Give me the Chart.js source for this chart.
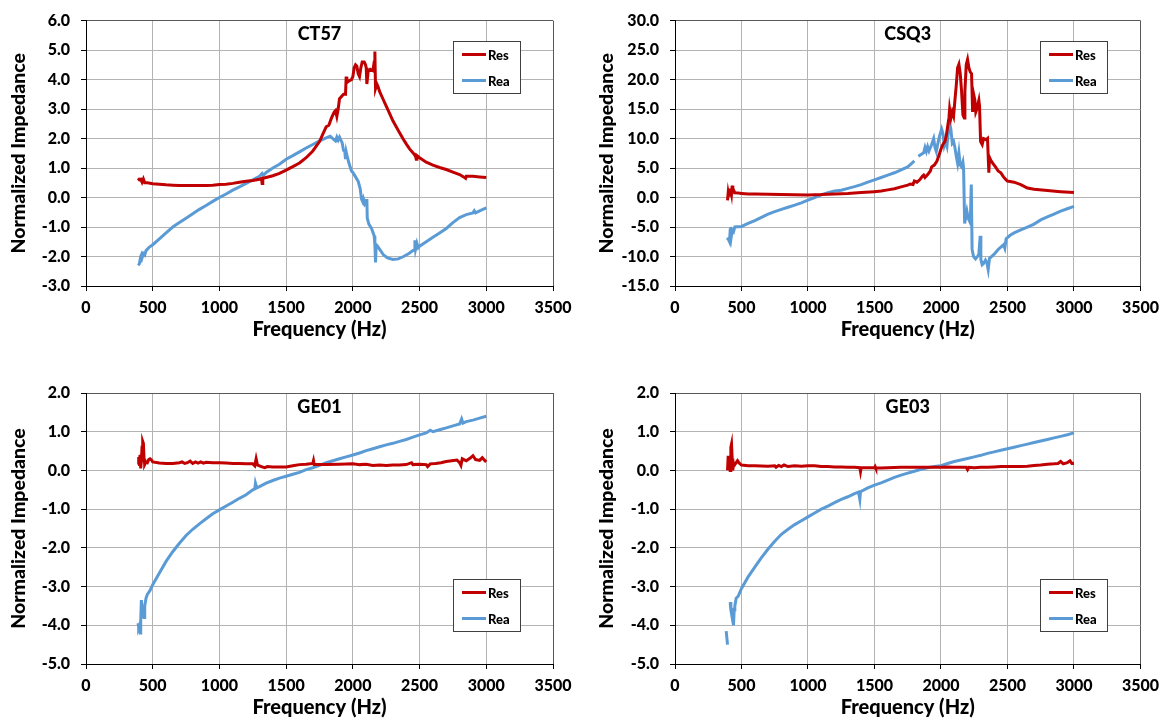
<!DOCTYPE html>
<html>
<head>
<meta charset="utf-8">
<script src="https://cdn.jsdelivr.net/npm/chart.js@4.4.1/dist/chart.umd.min.js"></script>
<style>
  html, body { margin: 0; padding: 0; background: #fff; }
  body { width: 1166px; height: 721px; position: relative; overflow: hidden; }
  canvas { position: absolute; }
</style>
</head>
<body>
<canvas id="ct57" width="583" height="360" style="left:0;top:0"></canvas>
<canvas id="csq3" width="583" height="360" style="left:583px;top:0"></canvas>
<canvas id="ge01" width="583" height="361" style="left:0;top:360px"></canvas>
<canvas id="ge03" width="583" height="361" style="left:583px;top:360px"></canvas>
<script>
// ---- data (Hz / normalized impedance) ----
const ct57ResHz = [390,400,410,420,430,440,460,500,550,600,650,700,800,900,950,1000,1050,1100,1150,1200,1250,1300,1315,1320,1325,1350,1400,1450,1500,1550,1600,1650,1700,1750,1780,1800,1820,1840,1860,1870,1880,1890,1900,1910,1930,1945,1950,1955,1970,1990,2000,2010,2020,2030,2040,2050,2060,2070,2085,2095,2100,2105,2115,2130,2150,2160,2165,2170,2180,2190,2200,2225,2250,2275,2300,2325,2350,2375,2400,2425,2450,2470,2475,2480,2500,2550,2600,2650,2700,2750,2800,2830,2845,2850,2900,2950,3000];
const ct57Res = [0.65,0.6,0.62,0.52,0.63,0.5,0.5,0.47,0.45,0.43,0.42,0.41,0.41,0.41,0.42,0.44,0.45,0.48,0.52,0.55,0.58,0.62,0.65,0.48,0.65,0.68,0.74,0.82,0.93,1.05,1.17,1.35,1.58,1.9,2.2,2.4,2.45,2.7,2.9,2.95,2.75,3.0,3.35,3.4,3.5,3.5,4.1,3.9,3.95,4.0,4.1,4.4,4.5,4.45,4.2,4.1,4.4,4.6,4.6,4.5,4.4,3.85,4.3,4.35,4.3,4.6,4.95,3.7,3.85,3.75,3.6,3.35,3.1,2.85,2.6,2.4,2.2,2.0,1.82,1.65,1.52,1.4,1.3,1.42,1.35,1.2,1.1,1.02,0.95,0.86,0.78,0.7,0.65,0.72,0.72,0.7,0.68];
const ct57ReaHz = [390,400,410,415,420,430,440,450,475,500,550,600,650,700,750,800,850,900,950,1000,1050,1100,1150,1200,1250,1300,1320,1330,1350,1400,1450,1500,1550,1600,1650,1700,1750,1800,1830,1850,1870,1880,1890,1900,1910,1920,1930,1940,1945,1950,1960,1975,1990,2000,2020,2040,2055,2065,2075,2080,2090,2100,2105,2108,2120,2140,2160,2165,2170,2175,2185,2200,2230,2260,2300,2340,2380,2420,2450,2460,2465,2470,2480,2490,2500,2550,2600,2650,2700,2750,2800,2850,2900,2910,2920,2950,3000];
const ct57Rea = [-2.3,-2.25,-2.0,-1.95,-2.05,-1.9,-1.95,-1.8,-1.68,-1.6,-1.4,-1.2,-1.0,-0.85,-0.7,-0.55,-0.4,-0.27,-0.13,0.0,0.12,0.25,0.36,0.48,0.6,0.72,0.82,0.75,0.85,1.0,1.13,1.3,1.42,1.55,1.68,1.8,1.92,2.02,2.08,2.0,1.92,2.05,1.95,2.05,1.95,1.85,1.6,1.55,1.3,1.55,1.35,1.1,0.9,0.85,0.7,0.55,0.3,-0.05,-0.15,-0.05,-0.2,-0.1,-0.05,-0.7,-0.9,-1.05,-1.3,-1.6,-2.2,-1.6,-1.65,-1.75,-1.95,-2.05,-2.1,-2.08,-2.0,-1.9,-1.8,-1.78,-1.45,-1.75,-1.55,-1.7,-1.65,-1.5,-1.35,-1.2,-1.05,-0.85,-0.68,-0.58,-0.52,-0.45,-0.52,-0.45,-0.35];

const csq3ResHz = [395,400,405,410,415,420,425,430,435,440,450,475,500,550,600,700,800,900,1000,1100,1200,1300,1400,1500,1550,1600,1650,1700,1750,1770,1790,1800,1820,1840,1860,1870,1880,1900,1920,1930,1950,1970,1990,2000,2010,2020,2030,2040,2050,2060,2065,2075,2085,2095,2105,2115,2125,2135,2145,2155,2165,2175,2180,2190,2200,2210,2220,2230,2238,2245,2255,2262,2270,2285,2290,2298,2310,2320,2340,2350,2360,2365,2375,2390,2410,2430,2450,2470,2490,2500,2550,2600,2650,2700,2800,2900,3000];
const csq3Res = [-0.5,0.8,0.2,1.5,0.4,1.2,0.6,2.0,0.7,1.3,0.8,0.75,0.7,0.6,0.58,0.55,0.5,0.48,0.45,0.5,0.6,0.7,0.85,1.0,1.1,1.3,1.5,1.8,2.1,2.3,2.2,2.8,2.6,3.0,3.6,3.8,3.4,3.9,4.5,5.2,5.5,6.2,7.5,8.2,8.8,9.2,9.5,10.5,12.0,13.5,15.0,13.5,14.5,13.8,16.5,19.0,22.0,22.6,21.0,18.0,14.0,13.5,18.0,22.5,23.4,22.0,21.3,21.0,14.5,17.6,16.5,14.5,15.0,16.5,15.5,9.5,9.0,10.0,9.8,10.0,4.2,6.8,6.3,5.8,5.2,4.5,4.2,3.5,3.0,2.8,2.6,2.2,1.6,1.4,1.2,1.0,0.85];
const csq3ReaHz = [390,400,410,415,420,425,430,440,450,475,500,550,600,650,700,750,800,850,900,950,1000,1050,1100,1150,1200,1250,1300,1350,1400,1450,1500,1550,1600,1650,1700,1750,1780,1800,1815,1830,1850,1870,1880,1890,1900,1910,1930,1945,1955,1965,1975,1990,2005,2015,2025,2035,2045,2055,2065,2075,2085,2095,2105,2115,2125,2135,2145,2155,2165,2170,2178,2185,2195,2205,2215,2222,2228,2234,2245,2260,2275,2285,2295,2300,2310,2320,2335,2345,2355,2365,2380,2400,2430,2450,2470,2480,2490,2500,2520,2550,2600,2650,2700,2750,2800,2850,2900,2950,3000];
const csq3Rea = [-7.2,-7.0,-7.5,-5.5,-5.0,-6.3,-5.5,-5.8,-5.0,-4.95,-4.9,-4.4,-3.9,-3.35,-2.8,-2.4,-2.0,-1.65,-1.3,-0.9,-0.45,0.0,0.45,0.8,1.1,1.25,1.55,1.85,2.2,2.6,3.0,3.4,3.8,4.2,4.7,5.2,5.8,6.2,null,7.0,7.3,7.6,8.5,7.8,8.6,7.9,9.0,10.0,8.5,7.8,9.0,10.5,11.6,10.8,8.8,9.5,8.7,11.0,12.7,11.5,9.2,9.5,8.5,7.0,5.8,7.6,5.5,5.2,6.0,5.0,-4.4,-3.5,-2.3,-3.5,-4.0,-3.0,2.2,-8.8,-10.0,-10.4,-10.0,-9.6,-6.5,-10.5,-11.4,-11.2,-10.6,-11.0,-12.2,-10.3,-10.0,-9.6,-8.8,-8.4,-8.0,-8.6,-7.0,-6.8,-6.4,-6.0,-5.5,-5.0,-4.5,-3.8,-3.3,-2.8,-2.3,-1.9,-1.5];

const ge01ResHz = [390,395,400,405,410,415,420,425,430,435,440,450,460,470,480,490,500,550,600,650,700,720,740,760,780,800,820,840,860,880,900,950,1000,1050,1100,1150,1200,1250,1265,1275,1285,1300,1320,1340,1360,1400,1450,1500,1550,1600,1650,1700,1705,1710,1750,1800,1900,2000,2050,2100,2150,2200,2250,2300,2350,2400,2440,2450,2500,2550,2560,2580,2620,2660,2700,2740,2780,2800,2810,2820,2850,2880,2900,2920,2950,2970,2990,3000];
const ge01Res = [0.15,0.35,0.2,0.4,0.05,0.25,0.6,0.75,0.7,0.3,0.15,0.22,0.2,0.28,0.3,0.27,0.22,0.19,0.18,0.18,0.2,0.22,0.18,0.2,0.24,0.18,0.22,0.19,0.22,0.19,0.21,0.2,0.2,0.19,0.18,0.18,0.17,0.17,0.12,0.3,0.14,0.12,0.09,0.07,0.1,0.09,0.09,0.09,0.12,0.15,0.16,0.18,0.25,0.15,0.15,0.15,0.16,0.17,0.15,0.16,0.13,0.14,0.13,0.14,0.14,0.15,0.2,0.15,0.16,0.15,0.1,0.17,0.18,0.2,0.23,0.25,0.27,0.2,0.13,0.3,0.25,0.32,0.38,0.28,0.26,0.33,0.25,0.22];
const ge01ReaHz = [390,395,400,405,410,415,420,425,430,435,440,450,460,480,500,550,600,650,700,750,800,850,900,950,1000,1050,1100,1150,1200,1250,1265,1270,1280,1300,1350,1400,1450,1500,1550,1600,1650,1700,1750,1800,1850,1900,1950,2000,2050,2100,2150,2200,2250,2300,2350,2400,2450,2500,2550,2580,2600,2650,2700,2750,2800,2815,2825,2850,2900,2950,3000];
const ge01Rea = [-3.95,-4.05,-4.0,-4.2,-3.9,-3.35,-3.6,-3.8,-3.5,-3.8,-3.5,-3.3,-3.2,-3.1,-2.95,-2.65,-2.35,-2.1,-1.88,-1.68,-1.52,-1.38,-1.25,-1.12,-1.02,-0.92,-0.82,-0.72,-0.63,-0.5,-0.48,-0.33,-0.45,-0.42,-0.33,-0.26,-0.2,-0.15,-0.1,-0.05,0.02,0.07,0.13,0.2,0.25,0.3,0.35,0.4,0.45,0.51,0.56,0.61,0.66,0.7,0.75,0.8,0.86,0.92,0.97,1.04,1.0,1.05,1.1,1.15,1.2,1.33,1.22,1.26,1.3,1.35,1.4];

const ge03ResHz = [395,400,405,410,415,420,425,430,435,440,450,460,470,480,500,550,600,700,750,760,780,800,820,850,900,950,1000,1050,1100,1150,1200,1250,1300,1350,1390,1395,1400,1450,1500,1505,1510,1550,1600,1700,1800,1900,2000,2050,2100,2150,2190,2200,2210,2250,2300,2350,2400,2450,2500,2550,2600,2650,2700,2750,2800,2850,2880,2900,2920,2950,2970,2985,3000];
const ge03Res = [0.0,0.38,0.05,0.3,0.0,0.6,0.68,0.3,0.0,0.2,0.15,0.2,0.25,0.2,0.14,0.12,0.12,0.11,0.12,0.08,0.13,0.1,0.14,0.1,0.12,0.11,0.12,0.12,0.1,0.1,0.09,0.09,0.08,0.08,0.07,-0.03,0.07,0.07,0.07,0.1,0.06,0.06,0.07,0.08,0.08,0.08,0.08,0.09,0.08,0.08,0.08,0.02,0.08,0.07,0.08,0.08,0.09,0.1,0.1,0.1,0.1,0.11,0.13,0.14,0.16,0.17,0.18,0.23,0.17,0.2,0.25,0.18,0.18];
const ge03ReaHz = [385,395,405,415,420,425,430,440,445,450,460,475,500,550,600,650,700,750,800,850,900,950,1000,1050,1100,1150,1200,1250,1300,1350,1380,1390,1395,1450,1500,1550,1600,1650,1700,1750,1800,1850,1900,1950,2000,2050,2100,2150,2200,2250,2300,2350,2400,2450,2500,2550,2600,2650,2700,2750,2800,2850,2900,2950,3000];
const ge03Rea = [-4.15,-4.5,null,-3.4,-3.6,-3.7,-3.55,-4.0,-3.6,-3.5,-3.3,-3.25,-3.05,-2.75,-2.5,-2.25,-2.03,-1.83,-1.65,-1.52,-1.4,-1.3,-1.2,-1.1,-1.0,-0.92,-0.83,-0.75,-0.68,-0.6,-0.56,-0.75,-0.55,-0.45,-0.38,-0.32,-0.25,-0.18,-0.12,-0.07,-0.02,0.03,0.07,0.1,0.12,0.18,0.23,0.27,0.31,0.35,0.39,0.44,0.48,0.52,0.56,0.6,0.64,0.68,0.72,0.76,0.8,0.84,0.88,0.92,0.97];

const xTicks = [0, 3500, 500];          // min, max, step
const ct57Ticks = [-3, 6, 1];
const csq3Ticks = [-15, 30, 5];
const geTicks = [-5, 2, 1];

const RED = '#C00000';
const BLUE = '#5B9BD5';

Chart.defaults.font.family = 'Lato';
Chart.defaults.color = '#000';

// title + in-plot legend box
const boxPlugin = {
  id: 'boxPlugin',
  afterDatasetsDraw(chart, args, opts) {
    const ctx = chart.ctx;
    const a = chart.chartArea;
    ctx.save();
    ctx.font = '900 18px Lato';
    ctx.fillStyle = '#000';
    ctx.textAlign = 'center';
    ctx.textBaseline = 'middle';
    ctx.fillText(opts.title, (a.left + a.right) / 2, a.top + 14);

    const bw = 67, bh = 52;
    const bx = Math.round(a.right - 100);
    const by = Math.round(opts.legendBottom ? a.bottom - 85 : a.top + 20);
    ctx.fillStyle = '#fff';
    ctx.fillRect(bx, by, bw, bh);
    ctx.strokeStyle = '#404040';
    ctx.lineWidth = 1;
    ctx.strokeRect(bx + 0.5, by + 0.5, bw, bh);
    chart.data.datasets.forEach((ds, i) => {
      const y = by + 13.5 + i * 26;
      ctx.strokeStyle = ds.borderColor;
      ctx.lineWidth = 3;
      ctx.beginPath();
      ctx.moveTo(bx + 9, y);
      ctx.lineTo(bx + 33, y);
      ctx.stroke();
      ctx.fillStyle = '#000';
      ctx.textAlign = 'left';
      ctx.font = '900 13px Lato';
      ctx.fillText(ds.label, bx + 35, y + 1);
    });
    ctx.restore();
  }
};

function pts(hz, vals) {
  return hz.map((f, i) => ({ x: f, y: vals[i] }));
}

function makeChart(id, title, resHz, res, reaHz, rea, yTicks, lay) {
  const yMax = yTicks[1];
  new Chart(document.getElementById(id), {
    type: 'line',
    data: {
      datasets: [
        { label: 'Res', data: pts(resHz, res), borderColor: RED, backgroundColor: RED, borderWidth: 3, pointRadius: 0, tension: 0 },
        { label: 'Rea', data: pts(reaHz, rea), borderColor: BLUE, backgroundColor: BLUE, borderWidth: 3, pointRadius: 0, tension: 0 }
      ]
    },
    options: {
      responsive: false,
      animation: false,
      devicePixelRatio: 1,
      layout: { padding: { left: 0, top: lay.top, right: lay.right, bottom: 0 } },
      plugins: {
        legend: { display: false },
        tooltip: { enabled: false },
        boxPlugin: { title: title, legendBottom: lay.legendBottom }
      },
      scales: {
        x: {
          type: 'linear',
          min: xTicks[0], max: xTicks[1],
          ticks: { stepSize: xTicks[2], padding: 7, font: { size: 16, weight: '900' }, callback: v => String(v) },
          grid: { color: c => (c.tick && c.tick.value === xTicks[1]) ? '#595959' : '#b3b3b3', tickLength: 5, tickColor: '#000' },
          border: { color: '#000', width: 1 },
          title: { display: true, text: 'Frequency (Hz)', font: { size: 20, weight: '900' }, padding: { top: 0, bottom: lay.xTitlePad } },
          afterFit: s => { s.height = lay.xH; }
        },
        y: {
          min: yTicks[0], max: yMax,
          ticks: { stepSize: yTicks[2], padding: 11, font: { size: 16, weight: '900' }, callback: v => v.toFixed(1) },
          grid: { color: c => (c.tick && c.tick.value === yMax) ? '#595959' : '#b3b3b3', tickLength: 5, tickColor: '#000' },
          border: { color: '#000', width: 1 },
          title: { display: true, text: 'Normalized Impedance', font: { size: 19.5, weight: '900' }, padding: { top: lay.yTitlePad, bottom: 0 } },
          afterFit: s => { s.width = lay.yW; }
        }
      }
    },
    plugins: [boxPlugin]
  });
}

makeChart('ct57', 'CT57', ct57ResHz, ct57Res, ct57ReaHz, ct57Rea, ct57Ticks,
  { top: 16, right: 30, xH: 74, yW: 86, xTitlePad: 18, yTitlePad: 7, legendBottom: false });
makeChart('csq3', 'CSQ3', csq3ResHz, csq3Res, csq3ReaHz, csq3Rea, csq3Ticks,
  { top: 16, right: 24, xH: 74, yW: 92, xTitlePad: 18, yTitlePad: 12, legendBottom: false });
makeChart('ge01', 'GE01', ge01ResHz, ge01Res, ge01ReaHz, ge01Rea, geTicks,
  { top: 33, right: 30, xH: 57, yW: 86, xTitlePad: 1, yTitlePad: 7, legendBottom: true });
makeChart('ge03', 'GE03', ge03ResHz, ge03Res, ge03ReaHz, ge03Rea, geTicks,
  { top: 33, right: 24, xH: 57, yW: 92, xTitlePad: 1, yTitlePad: 12, legendBottom: true });
</script>
</body>
</html>
